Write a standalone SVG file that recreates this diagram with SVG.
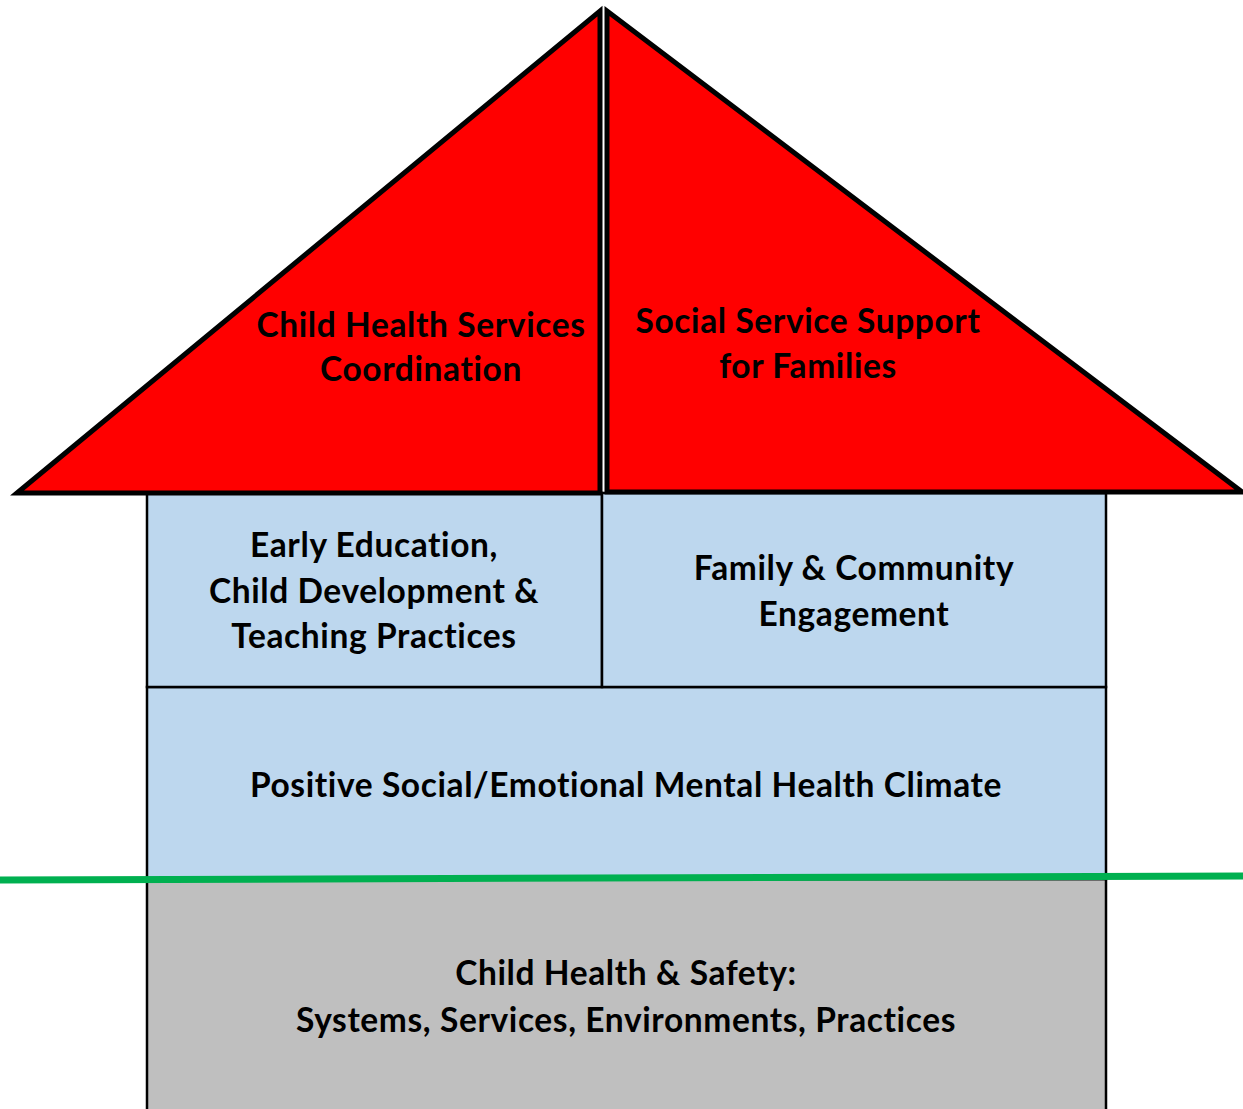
<svg xmlns="http://www.w3.org/2000/svg" width="1243" height="1109" viewBox="0 0 1243 1109">
<style>
.roof{fill:#FF0000;stroke:#000;stroke-width:5;stroke-linejoin:miter}
.blk{fill:#BDD7EE;stroke:#000;stroke-width:2.5}
.base{fill:#BFBFBF;stroke:#000;stroke-width:2.5}
.t{font-family:Lato,"Liberation Sans",sans-serif;font-weight:bold;font-size:33.5px;letter-spacing:0.6px;fill:#000;text-anchor:middle}
</style>
<rect width="1243" height="1109" fill="#fff"/>
<g id="base">
<rect class="base" x="147" y="879" width="959" height="240"/>
<text class="t" x="626" y="985">Child Health &amp; Safety:</text>
<text class="t" x="626" y="1032">Systems, Services, Environments, Practices</text>
</g>
<g id="climate">
<rect class="blk" x="147" y="687" width="959" height="192"/>
<text class="t" x="626" y="797">Positive Social/Emotional Mental Health Climate</text>
</g>
<g id="early-education">
<rect class="blk" x="147" y="493" width="455" height="194"/>
<text class="t" x="374" y="557">Early Education,</text>
<text class="t" x="374" y="603">Child Development &amp;</text>
<text class="t" x="374" y="648">Teaching Practices</text>
</g>
<g id="family-community">
<rect class="blk" x="602" y="493" width="504" height="194"/>
<text class="t" x="854" y="580">Family &amp; Community</text>
<text class="t" x="854" y="626">Engagement</text>
</g>
<g id="child-health-services">
<polygon class="roof" points="17,493 600,11 600,493"/>
<text class="t" x="421" y="337">Child Health Services</text>
<text class="t" x="421" y="381">Coordination</text>
</g>
<g id="social-service">
<polygon class="roof" points="607,11 1242,492 607,492"/>
<text class="t" x="808" y="333">Social Service Support</text>
<text class="t" x="808" y="378">for Families</text>
</g>
<g id="connectors">
<line x1="0" y1="880" x2="1243" y2="876" stroke="#00B050" stroke-width="7"/>
</g>
</svg>
